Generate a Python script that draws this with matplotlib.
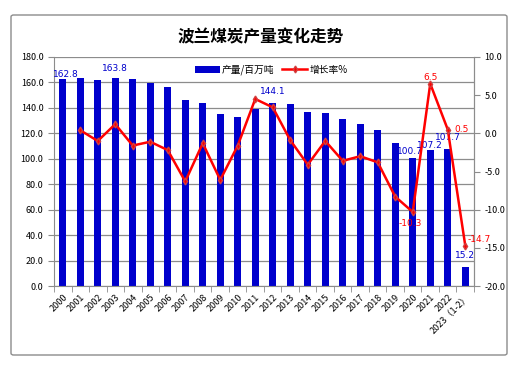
import matplotlib
matplotlib.use("Agg")
import matplotlib.pyplot as plt
from matplotlib.patches import FancyBboxPatch
import numpy as np

plt.rcParams['font.family'] = ['Noto Sans CJK SC', 'DejaVu Sans']
plt.rcParams['axes.unicode_minus'] = False

# data
years = ['2000', '2001', '2002', '2003', '2004', '2005', '2006', '2007', '2008',
         '2009', '2010', '2011', '2012', '2013', '2014', '2015', '2016', '2017',
         '2018', '2019', '2020', '2021', '2022', '2023（1-2）']
output = [162.8, 163.5, 161.9, 163.8, 162.4, 159.5, 156.1, 145.9, 144.0,
          135.2, 133.2, 139.3, 144.1, 142.9, 137.1, 135.8, 131.0, 127.1,
          122.4, 112.4, 100.7, 107.2, 107.7, 15.2]
growth = [None, 0.4, -1.0, 1.2, -1.6, -1.1, -2.2, -6.3, -1.3,
          -6.1, -1.6, 4.5, 3.4, -0.9, -4.1, -1.0, -3.6, -3.0,
          -3.8, -8.3, -10.3, 6.5, 0.5, -14.7]

# label offsets (points)
blue_labels = {0: (2, 0), 3: (0, 3.3), 12: (0, 5), 20: (-2, 1.5), 21: (0, 0), 22: (0, 5), 23: (0, 5)}
red_labels = {21: (0, 1, 'center', 'bottom'), 22: (4.5, 0, 'left', 'center'),
              20: (-1.5, -5, 'center', 'top'), 23: (2, 4.5, 'left', 'center')}

fig = plt.figure(figsize=(5.21, 3.70), dpi=100)
border = FancyBboxPatch((11 / 521, 15 / 370), 496 / 521, 340 / 370,
                        boxstyle="round,pad=0,rounding_size=0.005",
                        transform=fig.transFigure, fill=False,
                        edgecolor='#8c8c8c', linewidth=1)
fig.patches.append(border)

ax = fig.add_axes([54 / 521, 84 / 370, 420 / 521, 229 / 370])
x = np.arange(len(years))
bars = ax.bar(x, output, width=0.4, color='#0000CC', label='产量/百万吨', zorder=2)
ax.set_xlim(-0.5, len(years) - 0.5)
ax.set_ylim(0, 180)
ax.set_yticks(np.arange(0, 181, 20))
ax.set_yticklabels([f'{v:.1f}' for v in np.arange(0, 181, 20)], fontsize=6.5)
ax.set_xticks(x)
ax.set_xticklabels(years, rotation=45, ha='right', rotation_mode='anchor', fontsize=6.5)
ax.set_xticks(np.arange(-0.5, len(years), 1), minor=True)
ax.tick_params(axis='x', which='major', length=0, pad=5)
ax.tick_params(axis='x', which='minor', length=4, color='#8c8c8c', direction='out')
ax.tick_params(axis='y', length=4, color='#8c8c8c', direction='out')
ax.grid(axis='y', color='#8c8c8c', linewidth=0.9, zorder=0)
ax.set_axisbelow(True)
ax.spines['top'].set_visible(False)
for s in ['left', 'bottom', 'right']:
    ax.spines[s].set_color('#8c8c8c')

for i, (dx, dy) in blue_labels.items():
    ax.annotate(f'{output[i]:.1f}', (x[i], output[i]), xytext=(dx, dy),
                textcoords='offset points', ha='center', va='bottom',
                fontsize=6.5, color='#0000CC', family=['DejaVu Sans'])

ax2 = ax.twinx()
gx = [i for i in x if growth[i] is not None]
gy = [growth[i] for i in gx]
line, = ax2.plot(gx, gy, color='#FF0000', linewidth=1.8, marker='d', markersize=3.5,
                 markerfacecolor='#FF0000', markeredgecolor='#d04040', label='增长率%', zorder=3)
ax2.set_ylim(-20, 10)
ax2.set_yticks(np.arange(-20, 11, 5))
ax2.set_yticklabels([f'{v:.1f}' for v in np.arange(-20, 11, 5)], fontsize=6.5)
ax2.tick_params(axis='y', length=4, color='#8c8c8c', direction='out')
for s in ['top', 'left', 'bottom']:
    ax2.spines[s].set_visible(False)
ax2.spines['right'].set_color('#8c8c8c')

for i, (dx, dy, ha, va) in red_labels.items():
    ax2.annotate(f'{growth[i]:.1f}', (x[i], growth[i]), xytext=(dx, dy),
                 textcoords='offset points', ha=ha, va=va,
                 fontsize=6.5, color='#FF0000', family=['DejaVu Sans'])

ax.legend([bars, line], ['产量/百万吨', '增长率%'], loc='center', ncol=2,
          bbox_to_anchor=(0.517, 0.943), frameon=False, fontsize=7,
          handlelength=2.6, handletextpad=0.2, columnspacing=0.8)

fig.text(0.5, 1 - 37 / 370, '波兰煤炭产量变化走势', ha='center', va='center',
         fontsize=12, fontweight='bold')

fig.savefig('out.png', dpi=100)
